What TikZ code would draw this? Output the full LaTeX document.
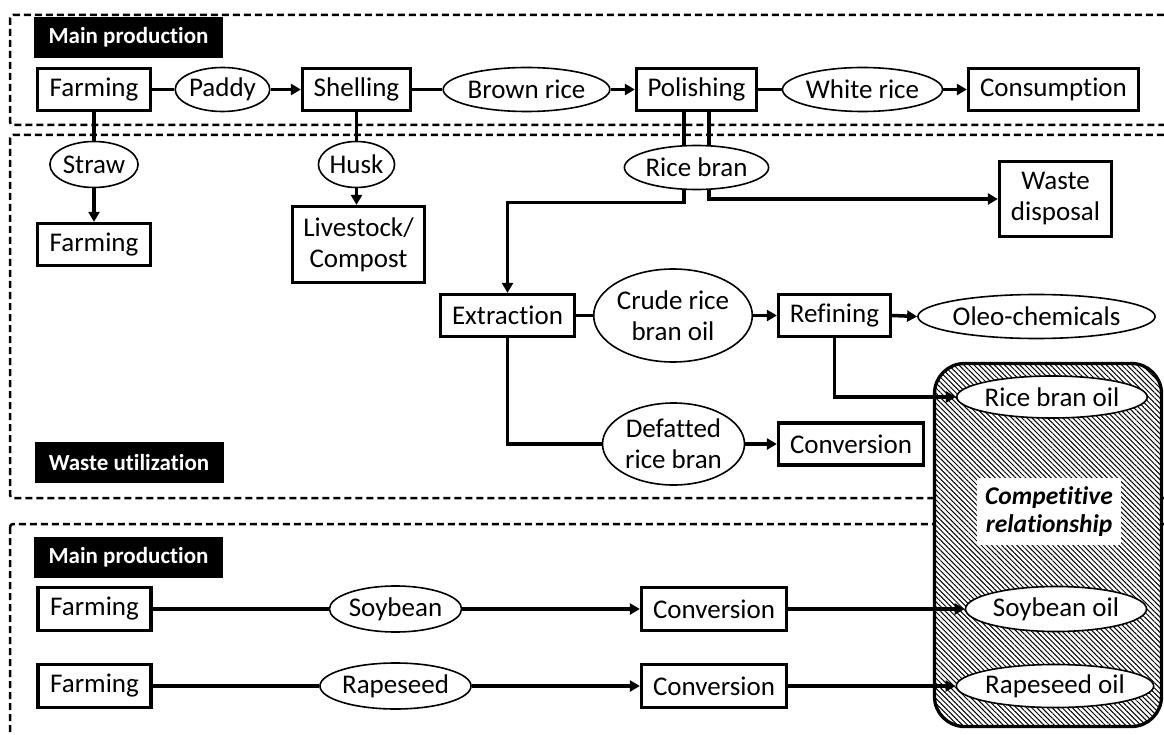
\documentclass[tikz,border=0pt]{standalone}
\usepackage{fontspec}
\setmainfont{Carlito}[RawFeature={-liga,-clig,-dlig,-calt}]
\usetikzlibrary{shapes.geometric,arrows.meta,patterns.meta}
\pgfdeclarelayer{back}
\pgfdeclarelayer{conn}
\pgfsetlayers{back,conn,main}

\begin{document}
\begin{tikzpicture}[x=1pt,y=-1pt,
  proc/.style={draw, line width=3.3pt, fill=white, inner sep=0pt, minimum height=42pt,
    align=center, font=\fontsize{27}{31}\selectfont},
  item/.style={ellipse, draw, line width=1.6pt, fill=white, inner sep=0pt, minimum height=44pt,
    align=center, font=\fontsize{27}{31}\selectfont},
  tag/.style={fill=black, text=white, inner sep=0pt, minimum width=189pt, minimum height=41pt,
    font=\fontsize{23}{27}\selectfont\bfseries},
  zone/.style={draw, line width=2.5pt, dash pattern=on 7pt off 4pt, rounded corners=3pt},
  link/.style={line width=3.5pt},
  flow/.style={line width=3.5pt, -{Triangle[length=10pt,width=11pt]}},
]
\useasboundingbox (0,0) rectangle (1164,735);

% section frames and the shaded group of oils
\begin{pgfonlayer}{back}
  \fill[white] (0,0) rectangle (1164,735);
  \draw[zone] (10,15) rectangle (1190,125);
  \draw[zone] (10,135) rectangle (1190,498);
  \draw[zone] (10,524) rectangle (1190,780);
  \draw[line width=3.3pt, rounded corners=30pt, fill=white,
    postaction={pattern={Lines[angle=-45,distance=3.6pt,line width=1pt]}}]
    (934.5,363.5) rectangle (1161.5,726.5);
\end{pgfonlayer}

% section labels
\node[tag] (t1) at (128.5,37.5) {Main production};
\node[tag] (t2) at (129,462.5) {Waste utilization};
\node[tag] (t3) at (128.5,557) {Main production};

% rice: main production
\node[proc, minimum width=113pt] (farm1) at (94,89.5) {Farming};
\node[item, minimum width=92pt] (paddy) at (222.5,89.5) {Paddy};
\node[proc, minimum width=108pt] (shell) at (356.5,89.5) {Shelling};
\node[item, minimum width=166pt] (brown) at (526.5,89.5) {Brown rice};
\node[proc, minimum width=120pt] (polish) at (696.5,89.5) {Polishing};
\node[item, minimum width=160pt] (white) at (862.5,89.5) {White rice};
\node[proc, minimum width=170pt] (consum) at (1053.5,89.5) {Consumption};

% rice: by-products
\node[item, minimum width=87pt, minimum height=46pt] (straw) at (94,164.5) {Straw};
\node[proc, minimum width=113pt] (farm2) at (94,244.5) {Farming};
\node[item, minimum width=76pt, minimum height=46pt] (husk) at (356.5,164.5) {Husk};
\node[proc, minimum width=132pt, minimum height=76pt] (stock) at (358.5,244.5) {Livestock/\\Compost};
\node[item, minimum width=143pt] (rbran) at (696.5,167.5) {Rice bran};
\node[proc, minimum width=112pt, minimum height=75pt] (waste) at (1055.5,199) {Waste\\disposal};
\node[proc, minimum width=134pt] (extr) at (507.5,315.5) {Extraction};
\node[item, minimum width=157pt, minimum height=93pt] (crude) at (673,315.5) {Crude rice\\bran oil};
\node[proc, minimum width=112pt] (refin) at (834.5,315.5) {Refining};
\node[item, minimum width=236pt] (oleo) at (1036.5,316.5) {Oleo-chemicals};
\node[item, minimum width=189pt, minimum height=42pt] (rbo) at (1052,397) {Rice bran oil};
\node[item, minimum width=142pt, minimum height=82pt] (defat) at (673.5,444) {Defatted\\rice bran};
\node[proc, minimum width=145pt] (conv1) at (851,444) {Conversion};

% competing oils
\node[fill=white, inner sep=0pt, minimum width=144pt, minimum height=67pt, align=center,
  font=\fontsize{25.5}{28}\selectfont\bfseries\itshape] (comp) at (1049,511.5) {Competitive\\relationship};
\node[proc, minimum width=113pt, minimum height=43pt] (farm3) at (94.5,609) {Farming};
\node[item, minimum width=132pt, minimum height=46pt] (soy) at (395.5,609) {Soybean};
\node[proc, minimum width=145pt, minimum height=43pt] (conv2) at (714,609) {Conversion};
\node[item, minimum width=181pt, minimum height=45pt] (soyoil) at (1056,609) {Soybean oil};
\node[proc, minimum width=113pt, minimum height=43pt] (farm4) at (94.5,686) {Farming};
\node[item, minimum width=150pt, minimum height=46pt] (rape) at (395.5,686) {Rapeseed};
\node[proc, minimum width=145pt, minimum height=43pt] (conv3) at (714,686) {Conversion};
\node[item, minimum width=195pt, minimum height=43pt] (rapeoil) at (1055,686) {Rapeseed oil};

\coordinate (jl) at (684,202.5);

% connectors
\begin{pgfonlayer}{conn}
  \draw[link] (farm1.east) -- (paddy.west);
  \draw[flow] (paddy.east) -- (shell.west);
  \draw[link] (shell.east) -- (brown.west);
  \draw[flow] (brown.east) -- (polish.west);
  \draw[link] (polish.east) -- (white.west);
  \draw[flow] (white.east) -- (consum.west);

  \draw[link] (farm1.south) -- (straw.center);
  \draw[flow] (straw.south) -- (farm2.north);
  \draw[link] (shell.south) -- (husk.center);
  \draw[flow] (husk.south) -- (husk.south |- stock.north);

  \draw[flow] ([xshift=-12.5pt]polish.south) -- (jl) -| (extr.north);
  \draw[flow] ([xshift=12.5pt]polish.south) |- (waste.west);

  \draw[link] (extr.east) -- (crude.west);
  \draw[flow] (crude.east) -- (refin.west);
  \draw[flow] (refin.east) -- (oleo.west);
  \draw[flow] (refin.south) |- (rbo.west);
  \draw[link] (extr.south) |- (defat.west);
  \draw[flow] (defat.east) -- (conv1.west);

  \draw[link] (farm3.east) -- (soy.west);
  \draw[flow] (soy.east) -- (conv2.west);
  \draw[flow] (conv2.east) -- (soyoil.west);
  \draw[link] (farm4.east) -- (rape.west);
  \draw[flow] (rape.east) -- (conv3.west);
  \draw[flow] (conv3.east) -- (rapeoil.west);
\end{pgfonlayer}
\end{tikzpicture}
\end{document}
